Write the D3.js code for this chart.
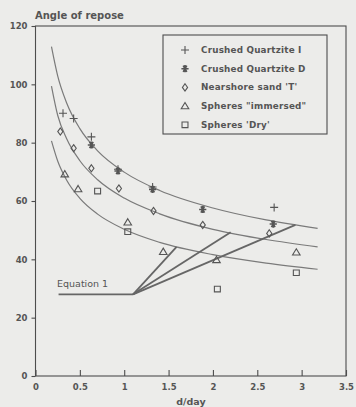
<!DOCTYPE html>
<html>
<head>
<meta charset="utf-8">
<script src="https://cdn.jsdelivr.net/npm/d3@7"></script>
<style>
  html, body { margin: 0; padding: 0; background: #ececea; }
  svg { display: block; }
  text { font-family: "DejaVu Sans", Verdana, sans-serif; fill: #555555; }
</style>
</head>
<body>
<svg id="chart" width="356" height="407"></svg>
<script>
// Measured angle of repose against d/day
const xTicks = [0, 0.5, 1, 1.5, 2, 2.5, 3, 3.5];
const yTicks = [0, 20, 40, 60, 80, 100, 120];

const quartziteIX = [0.31, 0.43, 0.63, 0.93, 1.32, 2.69];
const quartziteIY = [90.1, 88.3, 82.0, 70.9, 64.8, 57.8];

const quartziteDX = [0.63, 0.93, 1.32, 1.885, 2.68];
const quartziteDY = [79.2, 70.3, 64.0, 57.1, 52.1];

const nearshoreX = [0.28, 0.43, 0.63, 0.94, 1.33, 1.885, 2.635];
const nearshoreY = [83.8, 78.1, 71.2, 64.3, 56.6, 51.8, 48.9];

const immersedX = [0.33, 0.48, 1.04, 1.44, 2.04, 2.94];
const immersedY = [69.2, 64.1, 52.7, 42.6, 39.8, 42.4];

const dryX = [0.70, 1.04, 2.05, 2.94];
const dryY = [63.4, 49.5, 29.8, 35.4];

// Fitted curves, sampled along d/day
const curveX = [0.18, 0.25, 0.35, 0.5, 0.7, 1.0, 1.4, 2.0, 2.6, 3.18];
const curveUpperY = [112.9, 102.9, 93.7, 84.8, 77.2, 69.9, 63.6, 57.6, 53.5, 50.6];
const curveMiddleY = [99.4, 89.4, 81.4, 73.8, 67.3, 61.0, 55.6, 50.3, 46.8, 44.3];
const curveLowerY = [80.6, 73.7, 67.2, 60.9, 55.5, 50.3, 45.8, 41.6, 38.7, 36.6];

// Equation 1: flat level, then three branches up to the curves
const eqLevel = 28;
const eqFlatX = [0.26, 1.10];
const eqBranchEndX = [1.59, 2.20, 2.93];
const eqBranchEndY = [44.3, 49.3, 51.8];

const legendLabels = [
  "Crushed Quartzite I",
  "Crushed Quartzite D",
  "Nearshore sand 'T'",
  "Spheres \"immersed\"",
  "Spheres 'Dry'"
];

const svg = d3.select("#chart");
const x = d3.scaleLinear().domain([0, 3.5]).range([35.5, 346]);
const y = d3.scaleLinear().domain([0, 120]).range([376, 26]);

const ink = "#4d4d4d";
const lineInk = "#7a7a7a";
const textInk = "#555555";

// Plot frame
svg.append("rect")
  .attr("x", x(0)).attr("y", y(120))
  .attr("width", x(3.5) - x(0)).attr("height", y(0) - y(120))
  .attr("fill", "none").attr("stroke", ink).attr("stroke-width", 1.1);

// Y axis: ticks outside
const yAxis = d3.axisLeft(y).tickValues(yTicks).tickSize(4).tickPadding(4).tickFormat(d3.format("d"));
const gy = svg.append("g").attr("transform", `translate(${x(0)},0)`).call(yAxis);
gy.select(".domain").remove();
gy.selectAll(".tick line").attr("stroke", ink).attr("stroke-width", 1.1);
gy.selectAll(".tick text").attr("font-family", "DejaVu Sans").attr("font-size", 8.5).attr("font-weight", "bold").attr("fill", textInk);

// X axis: ticks inside
const xAxis = d3.axisBottom(x).tickValues(xTicks).tickSizeInner(-6).tickSizeOuter(0).tickPadding(8)
  .tickFormat(d => String(d));
const gx = svg.append("g").attr("transform", `translate(0,${y(0)})`).call(xAxis);
gx.select(".domain").remove();
gx.selectAll(".tick line").attr("stroke", ink).attr("stroke-width", 1.1);
gx.selectAll(".tick text").attr("font-family", "DejaVu Sans").attr("font-size", 8.5).attr("font-weight", "bold").attr("fill", textInk);

// Titles
svg.append("text").attr("x", 35).attr("y", 19)
  .attr("font-size", 10).attr("font-weight", "bold").attr("fill", textInk)
  .text("Angle of repose");
svg.append("text").attr("x", 191).attr("y", 405).attr("text-anchor", "middle")
  .attr("font-size", 9.5).attr("font-weight", "bold").attr("fill", textInk)
  .text("d/day");

// Fitted curves
const line = d3.line().x(d => x(d[0])).y(d => y(d[1])).curve(d3.curveMonotoneX);
[curveUpperY, curveMiddleY, curveLowerY].forEach(ys => {
  svg.append("path")
    .datum(curveX.map((v, i) => [v, ys[i]]))
    .attr("d", line)
    .attr("fill", "none").attr("stroke", lineInk).attr("stroke-width", 1.2);
});

// Equation 1 lines
const straight = d3.line().x(d => x(d[0])).y(d => y(d[1]));
svg.append("path")
  .datum(eqFlatX.map(v => [v, eqLevel]))
  .attr("d", straight)
  .attr("fill", "none").attr("stroke", "#666").attr("stroke-width", 1.8);
eqBranchEndX.forEach((ex, i) => {
  svg.append("path")
    .datum([[eqFlatX[1], eqLevel], [ex, eqBranchEndY[i]]])
    .attr("d", straight)
    .attr("fill", "none").attr("stroke", "#666").attr("stroke-width", 1.8);
});
svg.append("text").attr("x", 57).attr("y", 287)
  .attr("font-size", 9.5).attr("fill", textInk)
  .text("Equation 1");

// Marker shapes
const markers = {
  plus: s => `M${-s},0H${s}M0,${-s}V${s}`,
  star: s => {
    const a = s * 0.87, b = s * 0.5;
    return `M${-s},0H${s}M${-b},${-a}L${b},${a}M${-b},${a}L${b},${-a}M0,${-s}V${s}`;
  },
  diamond: s => `M0,${-s}L${s * 0.72},0L0,${s}L${-s * 0.72},0Z`,
  triangle: s => `M0,${-s}L${s * 1.05},${s * 0.75}L${-s * 1.05},${s * 0.75}Z`,
  square: s => `M${-s * 0.85},${-s * 0.8}H${s * 0.85}V${s * 0.8}H${-s * 0.85}Z`
};

const series = [
  { xs: quartziteIX, ys: quartziteIY, shape: "plus", size: 4.0 },
  { xs: quartziteDX, ys: quartziteDY, shape: "star", size: 3.6 },
  { xs: nearshoreX, ys: nearshoreY, shape: "diamond", size: 3.6 },
  { xs: immersedX, ys: immersedY, shape: "triangle", size: 3.6 },
  { xs: dryX, ys: dryY, shape: "square", size: 3.5 }
];

series.forEach(s => {
  svg.append("g").selectAll("path")
    .data(s.xs.map((v, i) => [v, s.ys[i]]))
    .join("path")
    .attr("transform", d => `translate(${x(d[0])},${y(d[1])})`)
    .attr("d", markers[s.shape](s.size))
    .attr("fill", "none")
    .attr("stroke", "#555")
    .attr("stroke-width", s.shape === "star" ? 1.6 : 1.1);
});

// Legend
const legend = svg.append("g");
legend.append("rect")
  .attr("x", 163).attr("y", 35).attr("width", 164).attr("height", 99)
  .attr("fill", "none").attr("stroke", ink).attr("stroke-width", 1.1);
legendLabels.forEach((label, i) => {
  const ly = 50 + i * 18.7;
  legend.append("path")
    .attr("transform", `translate(185,${ly})`)
    .attr("d", markers[series[i].shape](series[i].size))
    .attr("fill", "none").attr("stroke", "#555")
    .attr("stroke-width", series[i].shape === "star" ? 1.6 : 1.1);
  legend.append("text")
    .attr("x", 201).attr("y", ly + 3)
    .attr("font-size", 8.8).attr("font-weight", "bold").attr("fill", textInk)
    .attr("letter-spacing", 0.2)
    .text(label);
});
</script>
</body>
</html>
